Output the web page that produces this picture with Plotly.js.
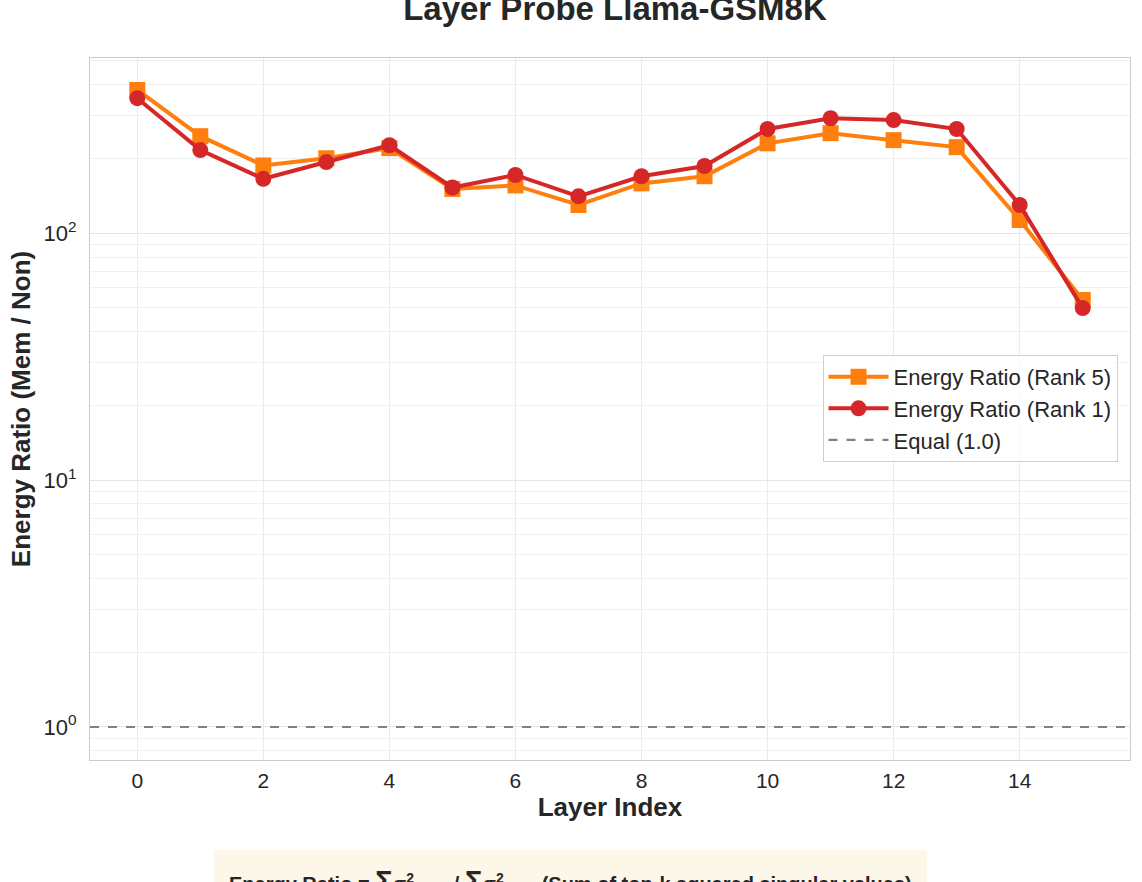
<!DOCTYPE html>
<html>
<head>
<meta charset="utf-8">
<script src="https://cdn.plot.ly/plotly-3.0.1.min.js"></script>
<style>html,body{margin:0;padding:0;background:#fff;}</style>
</head>
<body>
<div id="chart" style="width:1142px;height:882px;"></div>
<script>
const layers = [0,1,2,3,4,5,6,7,8,9,10,11,12,13,14,15];
const rank5 = [380,247,188,201,221,151,156,130,159,170,231,254,238,223,113,53.6];
const rank1 = [352,217,166,194,227,153,172,141,170,187,264,292,287,264,130,49.7];
const equalValue = 1.0;
const yTickVals = [1,10,100];
const yTickText = ['10<sup>0</sup>','10<sup>1</sup>','10<sup>2</sup>'];
const yMinorVals = [0.8,0.9,2,3,4,5,6,7,8,9,20,30,40,50,60,70,80,90,200,300,400,500];
const xTickVals = [0,2,4,6,8,10,12,14];

const fontFam = '"Liberation Sans", Arial, Helvetica, sans-serif';

const traces = [
  {x: layers, y: rank5, type: 'scatter', mode: 'lines+markers', name: 'Energy Ratio (Rank 5)',
   line: {color: '#ff7f0e', width: 4}, marker: {symbol: 'square', size: 16, color: '#ff7f0e'}},
  {x: layers, y: rank1, type: 'scatter', mode: 'lines+markers', name: 'Energy Ratio (Rank 1)',
   line: {color: '#d62728', width: 4}, marker: {symbol: 'circle', size: 16, color: '#d62728'}}
];

const layout = {
  width: 1142, height: 882,
  paper_bgcolor: '#ffffff', plot_bgcolor: '#ffffff',
  font: {family: fontFam, color: '#262626', size: 21},
  margin: {l: 90, r: 12, t: 58, b: 122},
  title: {text: '<b>Layer Probe Llama-GSM8K</b>', font: {size: 33, color: '#262626', family: fontFam},
          x: 0.5385, xanchor: 'center', y: 0.991, yanchor: 'middle', yref: 'container'},
  xaxis: {
    range: [-0.75, 15.75], tickvals: xTickVals, ticks: '', showgrid: true, gridcolor: '#ebebeb', gridwidth: 1,
    zeroline: false, showline: true, mirror: true, linecolor: '#cccccc', linewidth: 1.2,
    tickfont: {size: 21, color: '#262626'}, ticklabelstandoff: 2,
    title: {text: '<b>Layer Index</b>', font: {size: 26, color: '#262626'}, standoff: 6}
  },
  yaxis: {
    type: 'log', range: [Math.log10(0.735), Math.log10(512)],
    tickvals: yTickVals, ticktext: yTickText, ticks: '', showgrid: true, gridcolor: '#e6e6e6', gridwidth: 1,
    minor: {tickvals: yMinorVals, showgrid: true, gridcolor: '#f0f0f0', gridwidth: 1, ticks: ''},
    zeroline: false, showline: true, mirror: true, linecolor: '#cccccc', linewidth: 1.2,
    tickfont: {size: 22, color: '#262626'}, ticklabelstandoff: 8,
    title: {text: '<b>Energy Ratio (Mem / Non)</b>', font: {size: 26, color: '#262626'}, standoff: 5}
  },
  shapes: [
    {type: 'line', xref: 'paper', x0: 0, x1: 1, yref: 'y', y0: equalValue, y1: equalValue,
     line: {color: '#808080', width: 2.2, dash: 'dash'}, showlegend: true, name: 'Equal (1.0)', layer: 'above'}
  ],
  legend: {x: 0.988, xanchor: 'right', y: 0.577, yanchor: 'top', bgcolor: 'rgba(255,255,255,0.8)',
           bordercolor: '#d0d0d0', borderwidth: 1, font: {size: 22, color: '#262626'},
           itemwidth: 60, tracegroupgap: 4},
  annotations: [
    {xref: 'paper', yref: 'paper', x: 0.462, y: -0.128, xanchor: 'center', yanchor: 'top', showarrow: false,
     text: '<b>Energy Ratio = <span style="font-size:29px">Σ</span>σ<sup>2</sup><sub>top-k</sub> / <span style="font-size:29px">Σ</span>σ<sup>2</sup><sub>all</sub>    (Sum of top-k squared singular values)</b>',
     font: {size: 20, color: '#262626'}, bgcolor: '#fdf7ea', bordercolor: '#fdf7ea', borderpad: 14, align: 'center'}
  ]
};

Plotly.newPlot('chart', traces, layout, {displayModeBar: false, responsive: false});
</script>
</body>
</html>
